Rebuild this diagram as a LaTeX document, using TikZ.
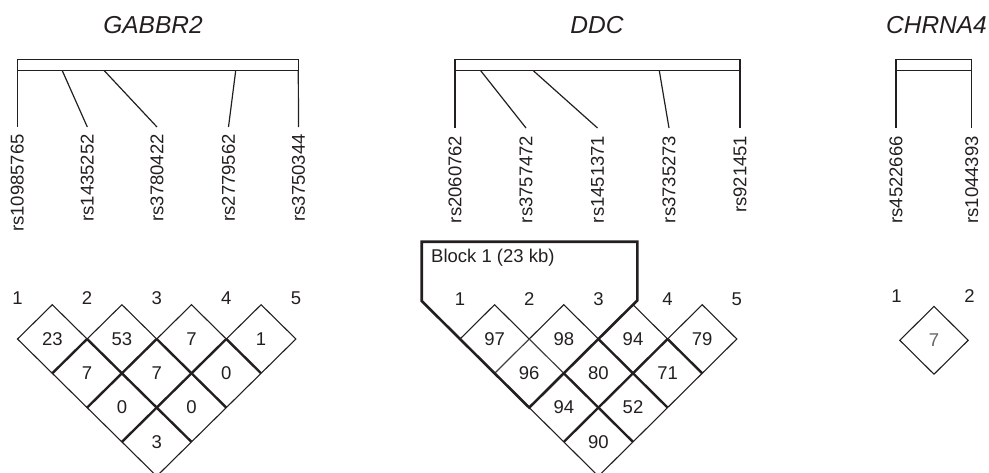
\documentclass[tikz,border=0pt]{standalone}
\usepackage{fontspec}
\setmainfont{Liberation Sans}
\usetikzlibrary{calc}
\definecolor{ink}{RGB}{35,31,32}
\tikzset{
  lbl/.style={font=\fontsize{18.5}{20}\selectfont, text=ink, inner sep=0pt},
  snp/.style={lbl, rotate=90, anchor=east},
  cell/.style={lbl},
  gene/.style={font=\fontsize{24.5}{26}\selectfont\itshape, text=ink, anchor=base, inner sep=0pt},
  outline/.style={draw=ink, line width=1.1pt, line join=miter},
  grid/.style={draw=ink, line width=2.4pt},
  soft/.style={draw=black!75, line width=1.2pt},
  blockline/.style={draw=ink, line width=2.6pt, line join=miter},
  barbox/.style={draw=ink, line width=1.2pt},
  stem/.style={draw=ink, line width=1.2pt}
}
% outer (thin) outline of an LD triangle:
% #1 first marker x, #2 marker spacing, #3 markers, #4 first row y, #5 half height
\newcommand\ldoutline[5]{%
  \pgfmathsetmacro\hw{#2/2}%
  \pgfmathtruncatemacro\nl{#3-1}%
  \pgfmathsetmacro\xb{#1+\nl*\hw}%
  \pgfmathsetmacro\yb{#4+\nl*#5}%
  \draw[outline] (#1,#4)
    \foreach \k in {1,...,\nl}{ -- ({#1+(\k-0.5)*#2},{#4-#5}) -- ({#1+\k*#2},#4) }
    -- (\xb,\yb) -- cycle;
}
\begin{document}
\begin{tikzpicture}[x=1pt, y=-1pt]
\useasboundingbox (0,0) rectangle (989,472);

% ---------------- GABBR2 ----------------
\node[gene] (tGABBR) at (153,33) {GABBR2};
\draw[barbox] (17.3,59.3) rectangle (298.3,70.7);
\foreach \n/\b/\e/\t in {a/17.3/17.3/rs10985765, b/62.3/87.3/rs1435252,
    c/104.3/157/rs3780422, d/235.7/228.5/rs2779562, e/298.3/298.5/rs3750344}{
  \coordinate (gb\n) at (\b,70.7);
  \coordinate (ge\n) at (\e,127);
  \draw[stem] (gb\n) -- (ge\n);
  \node[snp] (gs\n) at (\e,134) {\t};
}
\foreach \k in {1,...,5}{
  \node[lbl] (gm\k) at ({17.5+(\k-1)*69.6},298) {\k};
}
\ldoutline{17.5}{69.6}{5}{339}{34.3}
% internal grid lines
\foreach \k in {2,3,4}{
  \draw[grid] ({17.5+(\k-1)*69.6},339) -- ({17.5+(\k-1)*34.8},{339+(\k-1)*34.3});
  \draw[grid] ({17.5+(\k-1)*69.6},339) -- ({17.5+(\k-1)*69.6+(5-\k)*34.8},{339+(5-\k)*34.3});
}
\foreach \i/\j/\v in {1/2/23, 2/3/53, 3/4/7, 4/5/1, 1/3/7, 2/4/7, 3/5/0,
    1/4/0, 2/5/0, 1/5/3}{
  \node[cell] (gc\i\j) at ({17.5+(\i+\j-2)*34.8},{339+(\j-\i-1)*34.3}) {\v};
}

% ---------------- DDC ----------------
\node[gene] (tDDC) at (597,33) {DDC};
\draw[barbox] (455,59.3) rectangle (740,70.7);
\foreach \n/\b/\e/\t in {a/455/455/rs2060762, b/480.7/526/rs3757472,
    c/533.3/597.5/rs1451371, d/659.3/669/rs3735273, e/740/740/rs921451}{
  \coordinate (db\n) at (\b,70.7);
  \coordinate (de\n) at (\e,128);
  \draw[stem] (db\n) -- (de\n);
  \node[snp] (ds\n) at (\e,135.5) {\t};
}
\foreach \k in {1,...,5}{
  \node[lbl] (dm\k) at ({460+(\k-1)*69.2},299) {\k};
}
\ldoutline{460}{69.2}{5}{339}{34.3}
% lines inside the block are lighter
\draw[soft] (529.2,339) -- (494.6,373.3);
\draw[soft] (529.2,339) -- (563.8,373.3);
\draw[grid] (563.8,373.3) -- (633,441.9);
\draw[grid] (598.4,339) -- (667.6,407.6);
\draw[grid] (667.6,339) -- (563.8,441.9);
\draw[grid] (667.6,339) -- (702.2,373.3);
% haplotype block
\draw[blockline] (421.7,241.7) -- (637.3,241.7) -- (637.3,300.4)
  -- (529.2,407.6) -- (421.7,301) -- cycle;
\node[lbl, anchor=west] (blk) at (431,258) {Block 1 (23 kb)};
\foreach \i/\j/\v in {1/2/97, 2/3/98, 3/4/94, 4/5/79, 1/3/96, 2/4/80, 3/5/71,
    1/4/94, 2/5/52, 1/5/90}{
  \node[cell] (dc\i\j) at ({460+(\i+\j-2)*34.6},{339+(\j-\i-1)*34.3}) {\v};
}

% ---------------- CHRNA4 ----------------
\node[gene] (tCHR) at (936.5,33) {CHRNA4};
\draw[barbox] (896,59.3) rectangle (971.7,70.7);
\foreach \n/\x/\t in {a/896/rs4522666, b/971.7/rs1044393}{
  \coordinate (cb\n) at (\x,70.7);
  \coordinate (ce\n) at (\x,128);
  \draw[stem] (cb\n) -- (ce\n);
  \node[snp] (cs\n) at (\x,136) {\t};
}
\node[lbl] (cm1) at (896.5,296) {1};
\node[lbl] (cm2) at (969.5,296) {2};
\draw[outline] (899.8,340.3) -- (934,306.4) -- (968.2,340.3) -- (934,374.2) -- cycle;
\node[cell, text=black!60] (cc12) at (934,340.3) {7};
\end{tikzpicture}
\end{document}
